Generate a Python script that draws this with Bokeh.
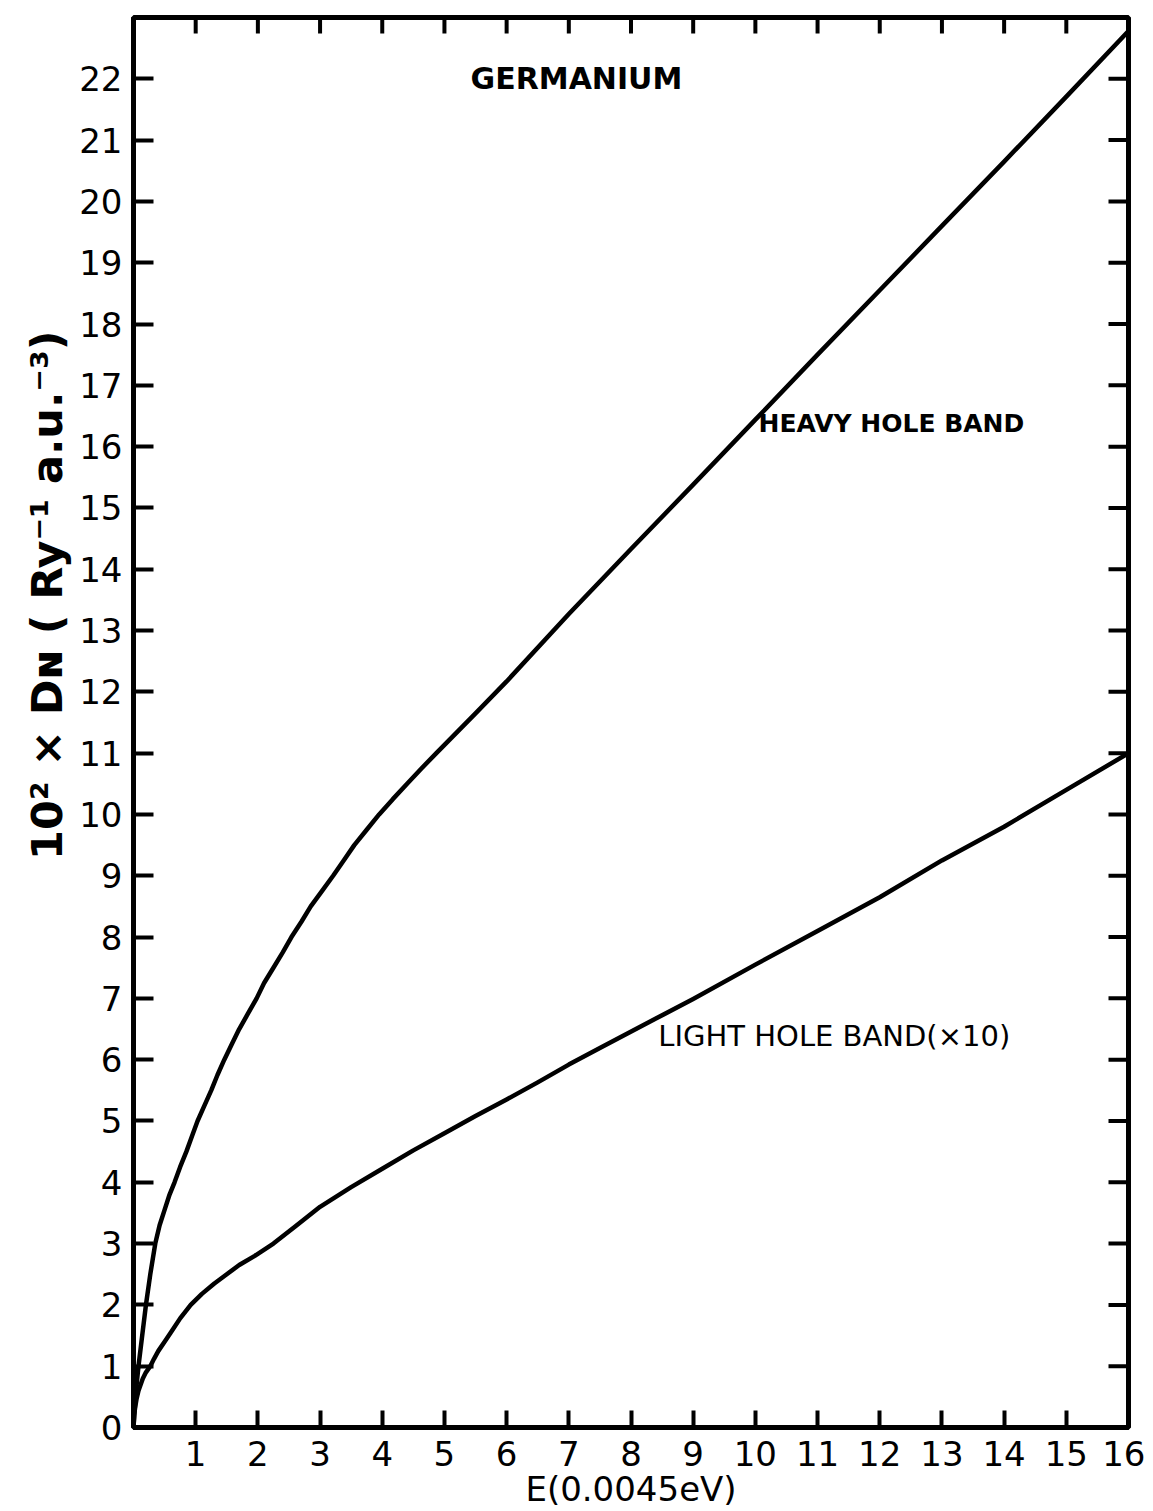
import math
from bokeh.plotting import figure
from bokeh.models import FixedTicker, Range1d, Label, Title
from bokeh.embed import file_html
from bokeh.resources import INLINE

# Data
heavy_E = [0, 0.04, 0.08, 0.14, 0.2, 0.27, 0.35, 0.42, 0.5, 0.58, 0.66, 0.75, 0.85, 0.94,
           1.03, 1.14, 1.25, 1.35, 1.46, 1.58, 1.7, 1.84, 1.98, 2.1, 2.25, 2.4, 2.54, 2.7,
           2.85, 3.03, 3.21, 3.38, 3.55, 3.75, 3.95, 4.17, 4.4, 4.63, 4.87, 5.5, 6, 7, 8,
           9, 10, 11, 12, 13, 14, 15, 16]
heavy_D = [0, 0.6, 1.0, 1.5, 2.0, 2.5, 3.0, 3.3, 3.55, 3.8, 4.0, 4.25, 4.5, 4.75,
           5.0, 5.25, 5.5, 5.75, 6.0, 6.25, 6.5, 6.75, 7.0, 7.25, 7.5, 7.75, 8.0, 8.25,
           8.5, 8.75, 9.0, 9.25, 9.5, 9.75, 10.0, 10.25, 10.5, 10.75, 11.0, 11.65, 12.17,
           13.27, 14.33, 15.38, 16.44, 17.5, 18.55, 19.6, 20.65, 21.71, 22.78]

light_E = [0, 0.01, 0.03, 0.05, 0.08, 0.15, 0.2, 0.27, 0.33, 0.4, 0.5, 0.6, 0.75, 0.92,
           1.1, 1.3, 1.5, 1.7, 1.95, 2.25, 2.6, 3, 3.5, 4, 4.5, 5, 5.5, 6, 6.5, 7, 7.5,
           8.4, 9, 10, 11, 12, 13, 14, 15, 16]
light_D = [0, 0.2, 0.35, 0.47, 0.6, 0.8, 0.9, 1.0, 1.12, 1.25, 1.4, 1.55, 1.78, 2.0,
           2.18, 2.35, 2.5, 2.65, 2.8, 3.0, 3.28, 3.6, 3.92, 4.22, 4.52, 4.8, 5.08, 5.35,
           5.63, 5.92, 6.19, 6.67, 6.99, 7.55, 8.1, 8.65, 9.25, 9.8, 10.4, 11.0]

x_ticks = list(range(1, 17))
y_ticks = list(range(0, 23))
x_inner_ticks = list(range(1, 16))
y_inner_ticks = list(range(1, 23))

title_text = "GERMANIUM"
heavy_label = "HEAVY HOLE BAND"
light_label = "LIGHT HOLE BAND(×10)"
x_label = "E(0.0045eV)"
y_label = "10² × Dɴ ( Ry⁻¹ a.u.⁻³)"

FONT = "DejaVu Sans"
X_MAX, Y_MAX = 16, 23

p = figure(frame_width=995, frame_height=1410,
           x_range=Range1d(0, X_MAX), y_range=Range1d(0, Y_MAX),
           output_backend="svg", toolbar_location=None,
           min_border_left=133, min_border_top=17, min_border_right=17, min_border_bottom=70)
p.xgrid.visible = False
p.ygrid.visible = False
p.background_fill_color = "white"
p.border_fill_color = "white"
p.outline_line_color = "black"
p.outline_line_width = 5

p.line(heavy_E, heavy_D, line_color="black", line_width=4.5, line_join="round")
p.line(light_E, light_D, line_color="black", line_width=4.5, line_join="round")

# inward ticks on the top and right edges
p.ray(x=x_inner_ticks, y=[Y_MAX] * len(x_inner_ticks), length=16, length_units="screen",
      angle=-math.pi / 2, line_color="black", line_width=4)
p.ray(x=[X_MAX] * len(y_inner_ticks), y=y_inner_ticks, length=20, length_units="screen",
      angle=math.pi, line_color="black", line_width=4)

def style_axis(ax, ticks):
    ax.ticker = FixedTicker(ticks=ticks)
    ax.axis_line_color = "black"
    ax.axis_line_width = 5
    ax.major_tick_in = 20
    ax.major_tick_out = 0
    ax.major_tick_line_width = 4
    ax.minor_tick_in = 0
    ax.minor_tick_out = 0
    ax.major_label_text_font = FONT
    ax.major_label_text_font_size = "34px"
    ax.major_label_text_color = "black"

xa = p.xaxis[0]
style_axis(xa, x_ticks)
xa.major_tick_in = 17
xa.major_label_standoff = 13
xa.axis_label = x_label
xa.axis_label_text_font = FONT
xa.axis_label_text_font_size = "34px"
xa.axis_label_text_font_style = "normal"
xa.axis_label_text_color = "black"
xa.axis_label_standoff = 0

ya = p.yaxis[0]
style_axis(ya, y_ticks)
ya.major_label_standoff = 11

# rotated y-axis title, placed like the reference (above the frame centre)
ytitle = Title(text=y_label, align="right", offset=313, standoff=10,
               text_font=FONT, text_font_size="43px", text_font_style="bold",
               text_color="black")
p.add_layout(ytitle, "left")

p.add_layout(Label(x=5.42, y=22.0, text=title_text, text_font=FONT, text_font_size="30px",
                   text_font_style="bold", text_color="black",
                   text_baseline="middle", text_align="left"))
p.add_layout(Label(x=10.05, y=16.38, text=heavy_label, text_font=FONT, text_font_size="25px",
                   text_font_style="bold", text_color="black",
                   text_baseline="middle", text_align="left"))
p.add_layout(Label(x=8.44, y=6.39, text=light_label, text_font=FONT, text_font_size="29px",
                   text_color="black", text_baseline="middle", text_align="left"))

open("out.html", "w").write(file_html(p, INLINE))
